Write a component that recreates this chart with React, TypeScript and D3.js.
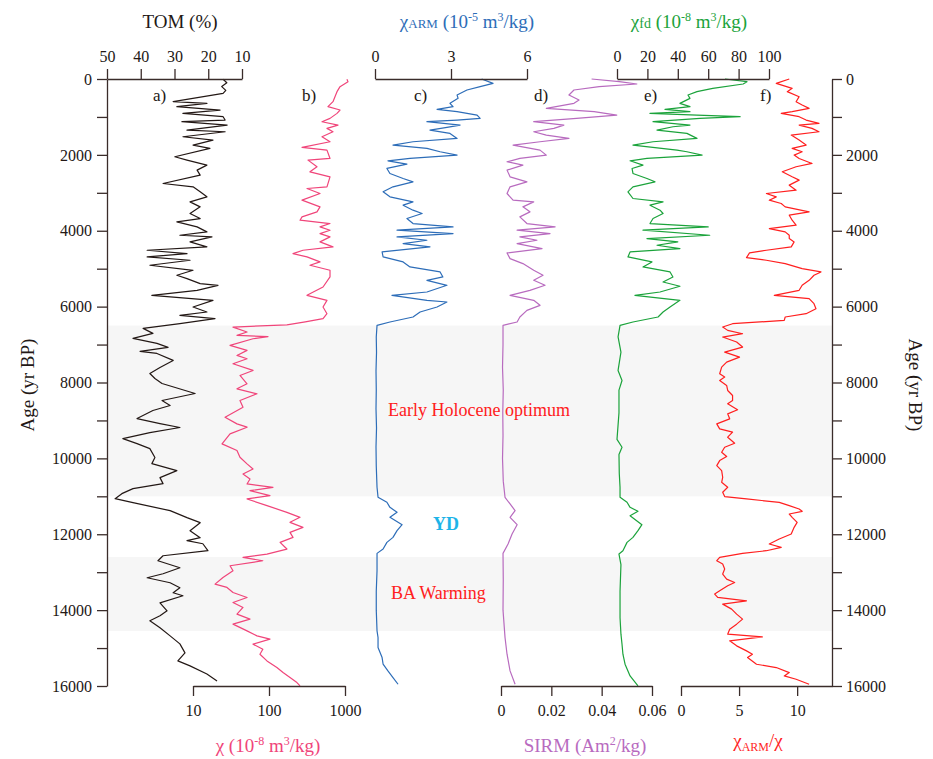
import React, { useEffect, useRef } from "react";
import * as d3 from "d3";

// [age (yr BP), value]
const tomSeries: [number, number][] = [
  [8, 15.6], [100, 14.5], [200, 16.0], [300, 14.8], [378, 15.6], [598, 30.4], [642, 20.4], [730, 29.3],
  [818, 16.5], [906, 27.5], [994, 15.6], [1082, 15.0], [1126, 27.8], [1214, 14.4], [1346, 26.3], [1390, 15.0],
  [1522, 27.5], [1610, 18.6], [1742, 24.5], [1830, 19.5], [2050, 29.9], [2138, 26.3], [2270, 20.4], [2402, 23.3],
  [2534, 22.4], [2754, 33.4], [2842, 24.5], [2974, 22.4], [3106, 20.4], [3238, 25.4], [3370, 22.4], [3546, 25.4],
  [3678, 22.4], [3766, 29.3], [3898, 23.3], [4030, 20.4], [4118, 28.4], [4162, 18.9], [4294, 25.4], [4426, 20.4],
  [4514, 38.1], [4602, 26.3], [4690, 38.1], [4778, 25.4], [4910, 37.3], [5042, 24.5], [5174, 29.3], [5262, 26.3],
  [5394, 22.4], [5438, 17.1], [5570, 23.3], [5702, 36.7], [5834, 18.6], [6010, 24.5], [6142, 20.4], [6230, 28.4],
  [6318, 18.0], [6450, 28.4], [6574, 39.3], [6706, 36.4], [6838, 42.3], [6970, 35.2], [7075, 31.9], [7181, 40.2],
  [7234, 35.2], [7418, 30.4], [7603, 34.3], [7762, 37.3], [7894, 35.8], [8026, 33.7], [8290, 23.9], [8474, 33.7],
  [8606, 31.3], [8738, 36.4], [8950, 41.1], [9082, 34.3], [9187, 28.4], [9319, 37.3], [9478, 45.3], [9610, 41.1],
  [9742, 37.3], [9979, 35.8], [10138, 36.7], [10322, 29.3], [10507, 34.3], [10666, 33.4], [10798, 42.3], [10930, 45.6],
  [11062, 47.6], [11167, 42.3], [11378, 31.3], [11563, 26.3], [11695, 22.4], [11906, 25.4], [12091, 22.4], [12170, 26.3],
  [12250, 21.6], [12434, 20.1], [12566, 33.4], [12698, 34.9], [12883, 28.4], [13042, 33.4], [13147, 38.1], [13279, 31.3],
  [13411, 28.4], [13543, 30.4], [13622, 27.5], [13807, 34.3], [14018, 32.2], [14150, 34.3], [14282, 37.3], [14467, 34.3],
  [14678, 31.3], [14890, 28.4], [15127, 26.9], [15338, 29.0], [15470, 25.4], [15682, 20.4], [15866, 17.4],
];

const chiSeries: [number, number][] = [
  [9, 1060], [70, 1095], [202, 860], [334, 785], [466, 738], [598, 695], [730, 597], [818, 860], [906, 785],
  [1038, 635], [1126, 498], [1214, 809], [1302, 579], [1390, 695], [1522, 498], [1654, 635], [1804, 272], [1874, 579],
  [2094, 635], [2138, 326], [2314, 428], [2446, 346], [2578, 635], [2842, 579], [2886, 316], [3018, 469], [3194, 272],
  [3370, 469], [3502, 428], [3634, 272], [3722, 256], [3810, 635], [3898, 469], [3986, 635], [4074, 469], [4162, 635],
  [4294, 469], [4426, 695], [4514, 280], [4602, 207], [4690, 316], [4822, 469], [4910, 346], [5042, 635], [5218, 635],
  [5482, 514], [5702, 316], [5834, 579], [6010, 514], [6186, 579], [6318, 514], [6400, 300], [6480, 172], [6540, 33.6],
  [6670, 51.4], [6758, 37.9], [6790, 97], [6846, 61.6], [7022, 30.7], [7154, 51.4], [7286, 37.9], [7374, 51.4],
  [7506, 33.6], [7682, 61.6], [7814, 41.5], [8034, 51.4], [8166, 37.9], [8298, 69.5], [8474, 41.5], [8650, 45.5],
  [8914, 26.4], [9090, 37.9], [9178, 51.4], [9354, 30.7], [9618, 24.1], [9794, 37.9], [9970, 41.5], [10146, 51.4],
  [10278, 61.6], [10410, 45.5], [10542, 56.2], [10674, 51.4], [10762, 113], [10850, 56.2], [10982, 103], [11070, 51.4],
  [11246, 94], [11422, 172], [11554, 256], [11686, 189], [11818, 280], [11950, 189], [12082, 207], [12214, 140],
  [12390, 172], [12522, 94], [12610, 45.5], [12698, 83], [12830, 30.7], [12962, 33.6], [13138, 24.8], [13314, 19.5],
  [13402, 28], [13534, 33.6], [13666, 51.4], [13798, 33.6], [13930, 45.5], [14106, 37.9], [14238, 56.2], [14370, 33.6],
  [14546, 51.4], [14678, 69.5], [14766, 103], [14898, 61.6], [15030, 83], [15162, 76], [15338, 94], [15514, 127],
  [15646, 153], [15778, 189], [15910, 233], [15998, 256],
];

const armSeries: [number, number][] = [
  [0, 4.21], [114, 4.66], [202, 4.15], [290, 3.63], [422, 3.24], [510, 3.28], [642, 2.96], [730, 3.08], [801, 2.45],
  [862, 3.24], [950, 4.03], [1038, 4.15], [1082, 3.24], [1126, 2.05], [1214, 3.36], [1276, 2.84], [1346, 2.17],
  [1434, 2.96], [1566, 3.24], [1654, 1.5], [1742, 0.71], [1830, 2.05], [1918, 2.57], [2006, 3.24], [2094, 1.38],
  [2156, 0.51], [2244, 1.26], [2358, 0.47], [2490, 0.59], [2622, 1.11], [2710, 1.5], [2842, 0.71], [2974, 0.32],
  [3106, 0.59], [3238, 1.5], [3326, 1.11], [3458, 1.5], [3546, 1.86], [3678, 1.26], [3810, 1.5], [3898, 3.08],
  [3986, 0.87], [4074, 3.08], [4162, 0.87], [4250, 2.05], [4338, 1.11], [4426, 2.17], [4558, 0.28], [4690, 0.32],
  [4822, 1.11], [4954, 1.38], [5086, 2.57], [5218, 2.68], [5306, 2.05], [5438, 2.84], [5614, 2.05], [5702, 0.67],
  [5834, 2.05], [5878, 2.84], [6010, 2.45], [6142, 1.78], [6274, 1.5], [6406, 0.59], [6494, 0.08], [6800, 0.05],
  [7200, 0.06], [7700, 0.04], [8200, 0.05], [8700, 0.04], [9200, 0.06], [9700, 0.04], [10200, 0.05], [10760, 0.08],
  [11026, 0.12], [11158, 0.47], [11290, 0.59], [11422, 0.87], [11554, 0.59], [11748, 1.07], [11906, 0.87],
  [12082, 0.71], [12214, 0.47], [12390, 0.32], [12504, 0.08], [12962, 0.08], [13500, 0.05], [14000, 0.05],
  [14546, 0.08], [14722, 0.12], [14986, 0.12], [15250, 0.28], [15426, 0.32], [15602, 0.51], [15778, 0.71], [15954, 0.91],
];

const sirmSeries: [number, number][] = [
  [0, 0.036], [70, 0.047], [132, 0.054], [202, 0.039], [290, 0.029], [422, 0.027], [554, 0.031], [642, 0.029],
  [774, 0.018], [862, 0.037], [950, 0.046], [1038, 0.03], [1126, 0.013], [1214, 0.025], [1302, 0.021], [1390, 0.013],
  [1478, 0.018], [1566, 0.027], [1654, 0.0155], [1742, 0.0048], [1874, 0.0155], [2006, 0.018], [2094, 0.0075],
  [2182, 0.0024], [2270, 0.0087], [2402, 0.0024], [2578, 0.0036], [2710, 0.0103], [2842, 0.0036], [3018, 0.0024],
  [3194, 0.0048], [3238, 0.013], [3370, 0.0087], [3502, 0.0115], [3634, 0.0075], [3810, 0.0103], [3898, 0.0215],
  [3986, 0.0064], [4074, 0.0195], [4162, 0.0075], [4250, 0.0143], [4338, 0.0064], [4470, 0.0163], [4585, 0.0024],
  [4734, 0.0036], [4866, 0.0087], [5042, 0.013], [5174, 0.0167], [5306, 0.013], [5438, 0.0175], [5570, 0.0115],
  [5702, 0.0036], [5834, 0.013], [5966, 0.0155], [6098, 0.0103], [6274, 0.0075], [6406, 0.0064], [6494, 0.0008],
  [7000, 0.0008], [7600, 0.0006], [8200, 0.0009], [8800, 0.0007], [9400, 0.0008], [10000, 0.0006], [10600, 0.0009],
  [11026, 0.0016], [11202, 0.0036], [11378, 0.0056], [11554, 0.0036], [11748, 0.0064], [11994, 0.0044],
  [12258, 0.0028], [12504, 0.0008], [13200, 0.0009], [14000, 0.0008], [14722, 0.0016], [15162, 0.0024],
  [15602, 0.0036], [15954, 0.0056],
];

const fdSeries: [number, number][] = [
  [0, 71], [70, 85.5], [132, 83], [246, 63], [334, 52.6], [422, 46.7], [510, 48], [642, 41.4], [730, 48], [801, 31.6],
  [862, 48], [906, 21.7], [950, 52.6], [994, 81], [1038, 54.6], [1126, 23.7], [1214, 48], [1258, 36.8], [1346, 26.3],
  [1434, 46], [1566, 52.6], [1654, 23.7], [1742, 10.5], [1874, 39.5], [1918, 46], [2006, 56], [2094, 19.7], [2156, 8.6],
  [2270, 17.1], [2358, 9.9], [2490, 10.5], [2622, 19.7], [2710, 25], [2842, 10.5], [2974, 7.2], [3150, 10.5],
  [3238, 30.3], [3326, 21.7], [3458, 28.3], [3546, 30.3], [3678, 23.7], [3810, 21.7], [3898, 60], [3986, 17.1],
  [4118, 61], [4206, 19.7], [4294, 40], [4382, 26.3], [4470, 41.4], [4558, 8.6], [4690, 7.2], [4822, 23], [4954, 17.1],
  [5086, 34.9], [5218, 36.8], [5350, 30.3], [5464, 41.4], [5614, 28.3], [5702, 11.8], [5834, 41.4], [6010, 34.9],
  [6142, 30.3], [6274, 27], [6406, 10.5], [6494, 2], [6800, 0.7], [7200, 2.6], [7682, 0.7], [7946, 3.3], [8200, 1.3],
  [8800, 1.3], [9500, 0], [9706, 3.3], [9900, 1.3], [10400, 1.5], [10762, 2], [11026, 2], [11158, 6.6], [11290, 8.6],
  [11396, 13.8], [11510, 8.6], [11748, 16.4], [11906, 13.8], [12082, 10.5], [12214, 6.6], [12434, 3.9], [12522, 1.3],
  [12800, 2.6], [13500, 2], [14200, 2], [14634, 2.6], [14898, 3.3], [15162, 3.9], [15426, 5.3], [15734, 8.6], [15998, 13.8],
];

const ratioSeries: [number, number][] = [
  [0, 9.32], [114, 8.2], [246, 9.57], [334, 9.15], [466, 10.17], [598, 9.91], [686, 10.43], [774, 11.03], [862, 9.57],
  [906, 8.63], [994, 10.17], [1082, 10.77], [1170, 11.88], [1214, 10.17], [1302, 11.28], [1390, 11.88], [1478, 9.49],
  [1610, 10.17], [1742, 10.77], [1830, 9.57], [1918, 10.43], [2006, 9.74], [2094, 10.17], [2226, 11.28], [2314, 9.91],
  [2446, 8.72], [2578, 9.57], [2666, 10.17], [2798, 9.32], [2930, 9.91], [3018, 7.35], [3106, 8.2], [3194, 7.6],
  [3282, 8.63], [3370, 8.97], [3502, 11.03], [3590, 9.32], [3722, 9.57], [3854, 9.91], [3942, 7.6], [4030, 8.97],
  [4118, 9.32], [4206, 9.32], [4294, 9.74], [4426, 9.49], [4514, 7.35], [4585, 5.9], [4708, 5.64], [4778, 7.35],
  [4866, 8.97], [4998, 10.43], [5086, 12.05], [5174, 11.45], [5306, 11.03], [5438, 10.43], [5570, 10.17], [5702, 8.03],
  [5790, 11.03], [5922, 11.45], [6054, 11.62], [6186, 10.77], [6274, 8.97], [6362, 8.89], [6450, 4.44], [6538, 3.59],
  [6626, 4.02], [6714, 5.3], [6802, 3.59], [6934, 4.79], [7066, 5.3], [7198, 3.76], [7330, 5.04], [7462, 3.93],
  [7594, 3.5], [7770, 3.33], [7858, 3.76], [7946, 3.33], [8078, 3.93], [8210, 4.02], [8342, 4.44], [8474, 4.44],
  [8562, 4.02], [8720, 4.87], [8826, 4.02], [8958, 4.19], [9090, 3.08], [9222, 3.33], [9310, 4.44], [9442, 4.02],
  [9600, 4.62], [9706, 3.76], [9838, 3.5], [9952, 3.93], [10058, 3.33], [10190, 3.08], [10322, 3.5], [10498, 3.59],
  [10630, 3.5], [10762, 4.02], [10894, 3.59], [11008, 3.76], [11070, 5.64], [11158, 8.46], [11246, 9.32],
  [11334, 10.17], [11396, 10.43], [11466, 9.32], [11554, 9.57], [11686, 10.0], [11818, 9.74], [11994, 9.49],
  [12126, 8.46], [12258, 7.6], [12346, 8.63], [12434, 7.35], [12504, 5.3], [12610, 3.33], [12698, 3.08], [12786, 3.59],
  [12918, 3.76], [13050, 3.59], [13182, 3.93], [13270, 4.62], [13358, 4.02], [13490, 3.33], [13578, 2.9], [13666, 3.16],
  [13754, 5.64], [13842, 3.59], [13974, 4.36], [14106, 4.79], [14238, 5.3], [14370, 4.79], [14502, 4.19], [14634, 4.02],
  [14704, 7.0], [14810, 4.19], [14942, 4.79], [15074, 5.64], [15162, 6.15], [15250, 5.73], [15426, 6.5], [15514, 8.2],
  [15646, 9.32], [15734, 8.89], [15822, 9.91], [15954, 11.03],
];

const bands: [number, number][] = [[6500, 11000], [12600, 14550]];
const ageTicks = d3.range(0, 16001, 1000);
const tomTicks = [50, 40, 30, 20, 10];
const armTicks = [0, 3, 6];
const fdTicks = [0, 20, 40, 60, 80, 100];
const chiTicks = [10, 100, 1000];
const sirmTicks = [0, 0.02, 0.04, 0.06];
const ratioTicks = [0, 5, 10];

const FONT = "'Liberation Serif', 'Times New Roman', serif";
const AXIS = "#3a2c2a";

type Part = { t: string; size?: number; shift?: number };

export default function App() {
  const ref = useRef<SVGSVGElement>(null);

  useEffect(() => {
    const svg = d3.select(ref.current);
    svg.selectAll("*").remove();

    const y = d3.scaleLinear().domain([0, 16000]).range([79, 686]);
    const tomX = d3.scaleLinear().domain([50, 10]).range([107, 242]);
    const chiX = d3.scaleLog().domain([10, 1000]).range([193, 345]);
    const armX = d3.scaleLinear().domain([0, 6]).range([375, 527]);
    const sirmX = d3.scaleLinear().domain([0, 0.06]).range([501, 652]);
    const fdX = d3.scaleLinear().domain([0, 100]).range([617, 769]);
    const ratioX = d3.scaleLinear().domain([0, 13]).range([681, 832]);

    // shaded periods
    svg.selectAll(".band").data(bands).enter().append("rect")
      .attr("x", 107).attr("width", 832 - 107)
      .attr("y", d => y(d[0])).attr("height", d => y(d[1]) - y(d[0]))
      .attr("fill", "#f6f6f6");

    // curves
    const curves: [[number, number][], any, string][] = [
      [tomSeries, tomX, "#231815"],
      [chiSeries, chiX, "#f0457a"],
      [armSeries, armX, "#2d6db8"],
      [sirmSeries, sirmX, "#b86bbf"],
      [fdSeries, fdX, "#1ba33b"],
      [ratioSeries, ratioX, "#ff1f1f"],
    ];
    curves.forEach(([data, sx, color]) => {
      const line = d3.line<[number, number]>().x(d => sx(d[1])).y(d => y(d[0]));
      svg.append("path").datum(data)
        .attr("d", line).attr("fill", "none")
        .attr("stroke", color).attr("stroke-width", 1.2)
        .attr("stroke-linejoin", "round");
    });

    const styleAxis = (g: any) => {
      g.attr("font-family", FONT).attr("font-size", 16);
      g.selectAll("path,line").attr("stroke", AXIS).attr("stroke-width", 1.3);
      g.selectAll("text").attr("fill", "#231815");
    };

    const ageFmt = (d: any) => (d % 2000 === 0 ? String(d) : "");
    svg.append("g").attr("transform", "translate(107,0)")
      .call(d3.axisLeft(y).tickValues(ageTicks).tickFormat(ageFmt).tickSize(10).tickSizeOuter(0).tickPadding(5))
      .call(styleAxis);
    svg.append("g").attr("transform", "translate(832,0)")
      .call(d3.axisRight(y).tickValues(ageTicks).tickFormat(ageFmt).tickSize(10).tickSizeOuter(0).tickPadding(4))
      .call(styleAxis);

    const top = (sx: any, ticks: number[]) =>
      svg.append("g").attr("transform", "translate(0,79)")
        .call(d3.axisTop(sx).tickValues(ticks).tickFormat(d3.format("d")).tickSize(10).tickSizeOuter(0).tickPadding(7))
        .call(styleAxis);
    top(tomX, tomTicks);
    top(armX, armTicks);
    top(fdX, fdTicks);

    const bottom = (sx: any, ticks: number[], fmt: any) =>
      svg.append("g").attr("transform", "translate(0,686)")
        .call(d3.axisBottom(sx).tickValues(ticks).tickFormat(fmt).tickSize(10).tickSizeOuter(0).tickPadding(9))
        .call(styleAxis);
    bottom(chiX, chiTicks, d3.format("d"));
    bottom(sirmX, sirmTicks, (d: any) => (d === 0 ? "0" : d3.format(".2f")(d)));
    bottom(ratioX, ratioTicks, d3.format("d"));

    // rich text helper (sub/superscripts)
    const rich = (x: number, yy: number, parts: Part[], color: string, size = 19, weight = "normal") => {
      const t = svg.append("text").attr("x", x).attr("y", yy)
        .attr("text-anchor", "middle").attr("font-family", FONT)
        .attr("font-size", size).attr("font-weight", weight).attr("fill", color);
      let cur = 0;
      parts.forEach(p => {
        const target = p.shift || 0;
        t.append("tspan").attr("dy", target - cur).attr("font-size", p.size || size).text(p.t);
        cur = target;
      });
      return t;
    };

    rich(180, 28, [{ t: "TOM (%)" }], "#231815");
    rich(467, 28, [
      { t: "χ" }, { t: "ARM", size: 13 }, { t: " (10" }, { t: "-5", size: 12, shift: -7 },
      { t: " m" }, { t: "3", size: 12, shift: -7 }, { t: "/kg)" },
    ], "#2d6db8");
    rich(689, 28, [
      { t: "χ" }, { t: "fd", size: 14 }, { t: " (10" }, { t: "-8", size: 12, shift: -7 },
      { t: " m" }, { t: "3", size: 12, shift: -7 }, { t: "/kg)" },
    ], "#1ba33b");
    rich(268, 752, [
      { t: "χ" }, { t: " (10" }, { t: "-8", size: 12, shift: -7 },
      { t: " m" }, { t: "3", size: 12, shift: -7 }, { t: "/kg)" },
    ], "#f0457a");
    rich(585, 752, [
      { t: "SIRM (Am" }, { t: "2", size: 12, shift: -7 }, { t: "/kg)" },
    ], "#b86bbf");
    rich(758, 747, [
      { t: "χ" }, { t: "ARM", size: 12, shift: 4 }, { t: "/χ" },
    ], "#ff1f1f");

    // age labels
    svg.append("text").attr("transform", "translate(34,385) rotate(-90)")
      .attr("text-anchor", "middle").attr("font-family", FONT).attr("font-size", 19)
      .attr("fill", "#231815").text("Age (yr BP)");
    svg.append("text").attr("transform", "translate(909,385) rotate(90)")
      .attr("text-anchor", "middle").attr("font-family", FONT).attr("font-size", 19)
      .attr("fill", "#231815").text("Age (yr BP)");

    // panel letters
    const letters: [string, number][] = [["a)", 153], ["b)", 302], ["c)", 414], ["d)", 534], ["e)", 644], ["f)", 760]];
    svg.selectAll(".letter").data(letters).enter().append("text")
      .attr("x", d => d[1]).attr("y", 101)
      .attr("font-family", FONT).attr("font-size", 17).attr("fill", "#231815")
      .text(d => d[0]);

    // period annotations
    svg.append("text").attr("x", 388).attr("y", 416).attr("font-family", FONT).attr("font-size", 18)
      .attr("fill", "#ff2020").text("Early Holocene optimum");
    svg.append("text").attr("x", 433).attr("y", 530).attr("font-family", FONT).attr("font-size", 18)
      .attr("font-weight", "bold").attr("fill", "#1db4e8").text("YD");
    svg.append("text").attr("x", 391).attr("y", 599).attr("font-family", FONT).attr("font-size", 18)
      .attr("fill", "#ff2020").text("BA Warming");
  }, []);

  return (
    <svg ref={ref} width={933} height={759}
      style={{ position: "absolute", left: 0, top: 0, background: "#fff" }} />
  );
}
